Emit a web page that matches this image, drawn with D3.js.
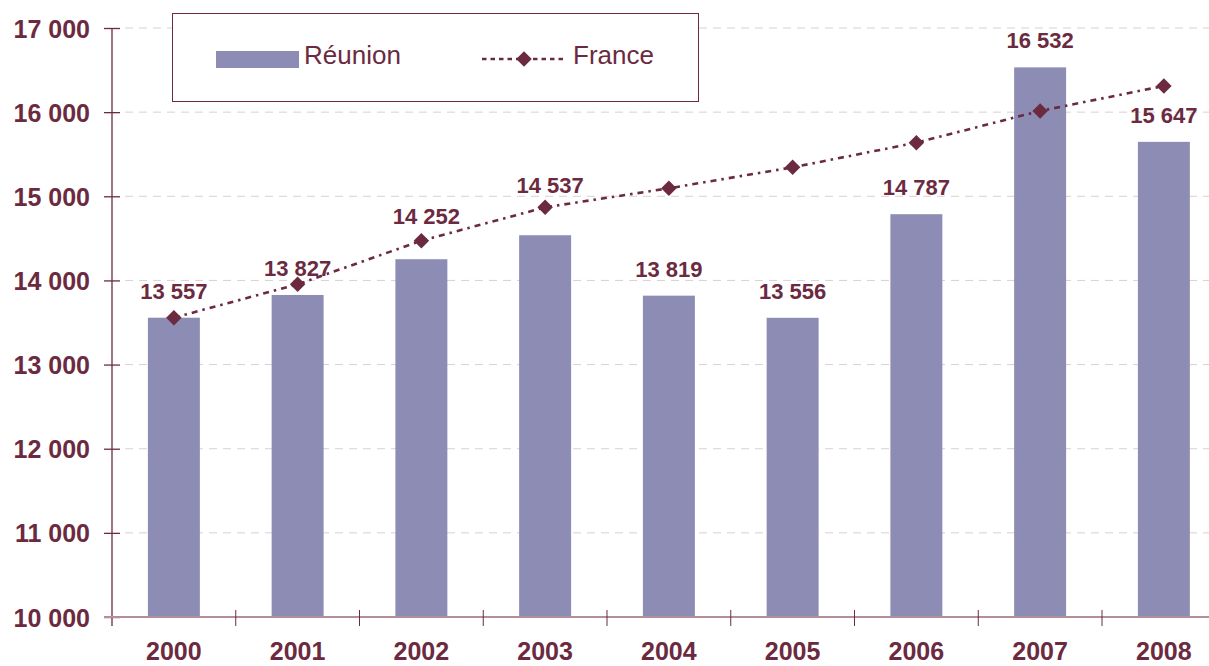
<!DOCTYPE html>
<html>
<head>
<meta charset="utf-8">
<script src="https://cdn.jsdelivr.net/npm/d3@7"></script>
<style>
  body { margin: 0; background: #fff; }
  svg { display: block; font-family: "Liberation Sans", Arial, sans-serif; }
</style>
</head>
<body>
<div id="chart"></div>
<script>
// Data
var years = ["2000", "2001", "2002", "2003", "2004", "2005", "2006", "2007", "2008"];
var reunion = [13557, 13827, 14252, 14537, 13819, 13556, 14787, 16532, 15647];
var france = [13557, 13954, 14472, 14869, 15095, 15344, 15637, 16014, 16311];
var yTicks = [10000, 11000, 12000, 13000, 14000, 15000, 16000, 17000];
var seriesNames = ["Réunion", "France"];

var w = 1209, h = 666;
var dark = "#6b2a40";
var barColor = "#8c8cb4";
var fmt = function(v) { return d3.format(",")(v).replace(",", " "); };
// labels nudged up so they clear the France line
var labelNudge = { "2002": [5, 35], "2003": [5, 42] };

var svg = d3.select("#chart").append("svg")
  .attr("width", w).attr("height", h);

var x = d3.scaleBand().domain(years).range([112, 1225.75]).paddingInner(0.58).paddingOuter(0.29);
var xb = d3.scaleBand().domain(years).range([112, 1225.75]);
var y = d3.scaleLinear().domain([10000, 17000]).range([617, 28]);

// Gridlines
svg.selectAll("line.grid")
  .data(yTicks.filter(function(d) { return d > 10000; }))
  .enter().append("line")
  .attr("x1", 125).attr("x2", w)
  .attr("y1", function(d) { return y(d); })
  .attr("y2", function(d) { return y(d); })
  .attr("stroke", "#dccfd2").attr("stroke-width", 1)
  .attr("stroke-dasharray", "8,6");

// Bars
svg.selectAll("rect.bar")
  .data(reunion)
  .enter().append("rect")
  .attr("x", function(d, i) { return x(years[i]); })
  .attr("width", x.bandwidth())
  .attr("y", function(d) { return y(d); })
  .attr("height", function(d) { return y(10000) - y(d); })
  .attr("fill", barColor);

// Y axis
var yAxis = d3.axisLeft(y).tickValues(yTicks).tickSize(8).tickPadding(14).tickFormat(fmt);
var gy = svg.append("g").attr("transform", "translate(112,0)").call(yAxis);
gy.select(".domain").remove();
gy.append("line").attr("x1", 0).attr("x2", 0).attr("y1", 28).attr("y2", 626)
  .attr("stroke", dark).attr("stroke-width", 1.3);
gy.selectAll(".tick line").attr("x2", -8).attr("x1", 8).attr("stroke", dark).attr("stroke-width", 1.3);
gy.selectAll(".tick text")
  .attr("x", -22)
  .attr("dy", "0.36em")
  .attr("fill", dark)
  .style("font-size", "25px").style("font-weight", "bold");

// X axis
svg.append("line").attr("x1", 104).attr("x2", w).attr("y1", 617).attr("y2", 617)
  .attr("stroke", "#b38f9c").attr("stroke-width", 2);
svg.selectAll("line.xtick")
  .data(years.slice(1))
  .enter().append("line")
  .attr("x1", function(d) { return xb(d); })
  .attr("x2", function(d) { return xb(d); })
  .attr("y1", 610).attr("y2", 626)
  .attr("stroke", dark).attr("stroke-width", 1);
svg.selectAll("text.xlab")
  .data(years)
  .enter().append("text")
  .attr("x", function(d) { return x(d) + x.bandwidth() / 2; })
  .attr("y", 660)
  .attr("text-anchor", "middle")
  .attr("fill", dark)
  .style("font-size", "25px").style("font-weight", "bold")
  .text(function(d) { return d; });

// France line
var line = d3.line()
  .x(function(d, i) { return x(years[i]) + x.bandwidth() / 2; })
  .y(function(d) { return y(d); });
svg.append("path").datum(france)
  .attr("d", line)
  .attr("fill", "none")
  .attr("stroke", dark).attr("stroke-width", 2.6)
  .attr("stroke-dasharray", "6,5,2.5,5");
var diamond = d3.symbol().type(d3.symbolSquare).size(120);
svg.selectAll("path.pt")
  .data(france)
  .enter().append("path")
  .attr("d", diamond)
  .attr("transform", function(d, i) {
    return "translate(" + (x(years[i]) + x.bandwidth() / 2) + "," + y(d) + ") rotate(45)";
  })
  .attr("fill", dark);

// Bar labels
svg.selectAll("text.val")
  .data(reunion)
  .enter().append("text")
  .attr("x", function(d, i) {
    var n = labelNudge[years[i]];
    return x(years[i]) + x.bandwidth() / 2 + (n ? n[0] : 0);
  })
  .attr("y", function(d, i) {
    var n = labelNudge[years[i]];
    return y(d) - (n ? n[1] : 19);
  })
  .attr("text-anchor", "middle")
  .attr("fill", dark)
  .style("font-size", "22px").style("font-weight", "bold")
  .text(function(d) { return fmt(d); });

// Legend
var lg = svg.append("g");
lg.append("rect").attr("x", 172.5).attr("y", 13.5).attr("width", 526).attr("height", 88)
  .attr("fill", "#fff").attr("stroke", dark).attr("stroke-width", 1);
lg.append("rect").attr("x", 216).attr("y", 51).attr("width", 83).attr("height", 17).attr("fill", barColor);
lg.append("text").attr("x", 304).attr("y", 64).attr("fill", dark)
  .style("font-size", "26px").text(seriesNames[0]);
lg.append("line").attr("x1", 482).attr("x2", 564).attr("y1", 59).attr("y2", 59)
  .attr("stroke", dark).attr("stroke-width", 2.4).attr("stroke-dasharray", "4.5,4");
lg.append("path").attr("d", diamond).attr("transform", "translate(524,59) rotate(45)").attr("fill", dark);
lg.append("text").attr("x", 573).attr("y", 64).attr("fill", dark)
  .style("font-size", "26px").text(seriesNames[1]);
</script>
</body>
</html>
